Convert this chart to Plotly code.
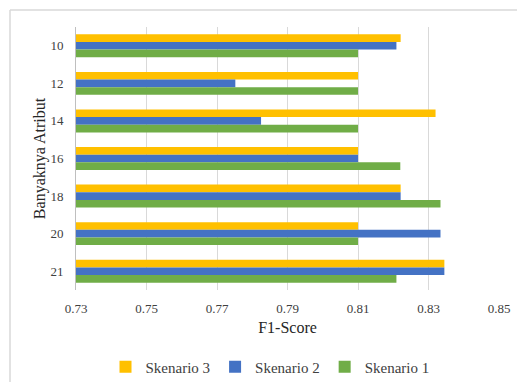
import plotly.graph_objects as go

categories = ["10", "12", "14", "16", "18", "20", "21"]
skenario1 = [0.810, 0.810, 0.810, 0.822, 0.8334, 0.810, 0.8209]
skenario2 = [0.8209, 0.7752, 0.7825, 0.810, 0.8221, 0.8334, 0.8345]
skenario3 = [0.8221, 0.810, 0.832, 0.810, 0.8221, 0.810, 0.8345]
x_ticks = [0.73, 0.75, 0.77, 0.79, 0.81, 0.83, 0.85]

FONT = "Liberation Serif"
W, H = 517, 382
L, R, T, B = 76, 18, 27, 92
pw, ph = W - L - R, H - T - B

fig = go.Figure()
for name, vals, col in [("Skenario 3", skenario3, "#FFC000"),
                        ("Skenario 2", skenario2, "#4472C4"),
                        ("Skenario 1", skenario1, "#70AD47")]:
    fig.add_trace(go.Bar(y=categories, x=vals, name=name, orientation="h",
                         base=0, marker=dict(color=col, line=dict(width=0))))

def px_x(p):
    return (p - L) / pw

def px_y(p):
    return (H - B - p) / ph

fig.update_layout(
    width=W, height=H,
    margin=dict(l=L, r=R, t=T, b=B, autoexpand=False),
    paper_bgcolor="white", plot_bgcolor="white",
    barmode="group", bargap=0.39, bargroupgap=0,
    font=dict(family=FONT, color="#262626", size=13),
    xaxis=dict(range=[0.73, 0.85], tickvals=x_ticks,
               ticktext=[f"{v:.2f}" for v in x_ticks],
               showgrid=True, gridcolor="#D9D9D9", gridwidth=1,
               zeroline=False, showline=False, automargin=False,
               ticks="outside", ticklen=6, tickcolor="rgba(0,0,0,0)",
               tickfont=dict(size=13, family=FONT, color="#404040"),
               title=dict(text="F1-Score", font=dict(size=16, family=FONT, color="#262626"),
                          standoff=7)),
    yaxis=dict(type="category", autorange="reversed",
               showgrid=False, zeroline=False, automargin=False,
               showline=True, linecolor="#BFBFBF", linewidth=1,
               ticks="outside", ticklen=9, tickcolor="rgba(0,0,0,0)",
               tickfont=dict(size=13, family=FONT, color="#404040"),
               title=dict(text="Banyaknya Atribut", font=dict(size=16, family=FONT, color="#262626"),
                          standoff=0)),
    legend=dict(orientation="h", traceorder="normal",
                x=px_x(270), xanchor="center", y=px_y(367), yanchor="middle",
                font=dict(size=15, family=FONT, color="#404040"),
                itemwidth=30),
    showlegend=True,
    shapes=[
        dict(type="line", xref="paper", yref="paper", x0=px_x(10), x1=px_x(517),
             y0=px_y(10), y1=px_y(10), line=dict(color="#D9D9D9", width=1.5)),
        dict(type="line", xref="paper", yref="paper", x0=px_x(10), x1=px_x(10),
             y0=px_y(10), y1=px_y(382), line=dict(color="#D9D9D9", width=1.5)),
    ],
)

fig.write_html("out.html")
